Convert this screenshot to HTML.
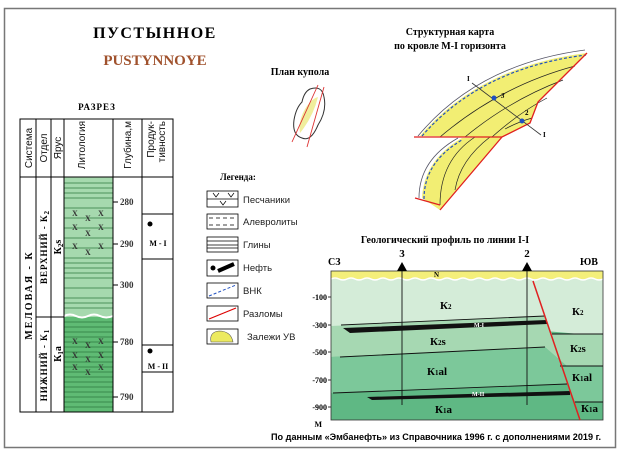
<!DOCTYPE html>
<html><head><meta charset="utf-8"><style>
html,body{margin:0;padding:0;background:#fff;width:624px;height:456px;overflow:hidden}
svg{display:block}
.s{font-family:"Liberation Serif",serif;font-weight:bold}
.a{font-family:"Liberation Sans",sans-serif}
</style></head><body>
<svg width="624" height="456" viewBox="0 0 624 456" xmlns="http://www.w3.org/2000/svg">
<rect x="4.5" y="8.5" width="611" height="439" fill="#fff" stroke="#777" stroke-width="1.5"/>
<text x="155" y="38" class="s" font-size="16" text-anchor="middle" letter-spacing="1.5">ПУСТЫННОЕ</text>
<text x="155" y="65" class="s" font-size="15" text-anchor="middle" fill="#a0522d">PUSTYNNOYE</text>
<text x="97" y="110" class="s" font-size="9" text-anchor="middle" letter-spacing="1">РАЗРЕЗ</text>
<!-- column -->
<rect x="64" y="177" width="49" height="140" fill="#a6d9ae"/>
<rect x="64" y="317" width="49" height="95" fill="#5fbb74"/>
<g stroke="#2f7a3f" stroke-width="0.8">
<path d="M64 183H113M64 188H113M64 193H113M64 198H113M64 208H113M64 218H113M64 228H113M64 238H113M64 248H113M64 258H113M64 263H113M64 268H113M64 273H113M64 278H113M64 288H113M64 298H113M64 303H113M64 308H113"/>
<path d="M64 322H113M64 327H113M64 332H113M64 337H113M64 342H113M64 347H113M64 352H113M64 357H113M64 362H113M64 367H113M64 372H113M64 377H113M64 382H113M64 387H113M64 392H113M64 397H113M64 402H113M64 407H113"/>
</g>
<path d="M64 316q6-3 12 0t12 0t12 0t13 0" stroke="#fff" stroke-width="2" fill="none"/>
<g class="s" font-size="8" fill="#333"><text x="72" y="216">X</text><text x="85" y="221">X</text><text x="98" y="216">X</text><text x="72" y="230">X</text><text x="85" y="236">X</text><text x="98" y="230">X</text><text x="72" y="249">X</text><text x="85" y="255">X</text><text x="98" y="249">X</text>
<text x="72" y="344">X</text><text x="85" y="348">X</text><text x="98" y="344">X</text><text x="72" y="358">X</text><text x="85" y="362">X</text><text x="98" y="358">X</text><text x="72" y="370">X</text><text x="85" y="375">X</text><text x="98" y="370">X</text></g>
<g fill="none" stroke="#000" stroke-width="1">
<rect x="20" y="119" width="153" height="293"/>
<path d="M20 177H173M36 119V412M51 119V412M64 119V412M113 119V412M142 119V412M36 317H64M142 214H173M142 259H173M142 345H173M142 372H173"/>
<path d="M113 202h5M113 244h5M113 285h5M113 342h5M113 397h5"/>
</g>
<g font-size="9" class="s" font-weight="normal" fill="#333"><text x="120" y="205">280</text><text x="120" y="247">290</text><text x="120" y="288">300</text><text x="120" y="345">780</text><text x="120" y="400">790</text></g>
<g class="a" font-size="10" fill="#111">
<text transform="translate(32,148) rotate(-90)" text-anchor="middle">Система</text>
<text transform="translate(47,148) rotate(-90)" text-anchor="middle">Отдел</text>
<text transform="translate(61,148) rotate(-90)" text-anchor="middle">Ярус</text>
<text transform="translate(85,121) rotate(-90)" text-anchor="end">Литология</text>
<text transform="translate(131,121) rotate(-90)" text-anchor="end">Глубина,м</text>
<text transform="translate(154,121) rotate(-90)" text-anchor="end">Продук-</text>
<text transform="translate(165,121) rotate(-90)" text-anchor="end">тивность</text>
</g>
<g class="s" font-size="10">
<text transform="translate(32,295) rotate(-90)" text-anchor="middle" letter-spacing="2">МЕЛОВАЯ - К</text>
<text transform="translate(47,247) rotate(-90)" text-anchor="middle" font-size="9" letter-spacing="1">ВЕРХНИЙ - К<tspan font-size="7" dy="2">2</tspan></text>
<text transform="translate(47,365) rotate(-90)" text-anchor="middle" font-size="9" letter-spacing="1">НИЖНИЙ - К<tspan font-size="7" dy="2">1</tspan></text>
<text transform="translate(61,247) rotate(-90)" text-anchor="middle">К<tspan font-size="7" dy="2">2</tspan><tspan dy="-2">s</tspan></text>
<text transform="translate(61,354) rotate(-90)" text-anchor="middle">К<tspan font-size="7" dy="2">1</tspan><tspan dy="-2">a</tspan></text>
<text x="158" y="246" font-size="8" text-anchor="middle">М - I</text>
<text x="158" y="369" font-size="8" text-anchor="middle">М - II</text>
</g>
<circle cx="150" cy="224" r="2.5"/><circle cx="150" cy="351" r="2.5"/>
<!-- legend -->
<text x="220" y="180" class="s" font-size="9">Легенда:</text>
<g fill="#fff" stroke="#000" stroke-width="0.8">
<rect x="207" y="191" width="31" height="16"/><rect x="207" y="214" width="31" height="15"/><rect x="207" y="237" width="31" height="15"/><rect x="207" y="260" width="31" height="16"/><rect x="207" y="283" width="31" height="15"/><rect x="207" y="306" width="31" height="15"/><rect x="207" y="329" width="31" height="15"/>
</g>
<path d="M207 199H238M213 193l3 4 3-4M228 193l3 4 3-4M220 201l3 4 3-4" stroke="#000" stroke-width="0.7" fill="none"/>
<path d="M209 218H236M209 225H236" stroke="#000" stroke-width="0.7" stroke-dasharray="4 3"/>
<path d="M207 241H238M207 245H238M207 248H238" stroke="#000" stroke-width="0.7"/>
<circle cx="213" cy="268" r="2.5"/><path d="M218 271L234 264" stroke="#000" stroke-width="4"/>
<path d="M209 296L236 285" stroke="#2050c0" stroke-width="1" stroke-dasharray="3 2"/>
<path d="M209 319L236 308" stroke="#d00" stroke-width="1.2"/>
<path d="M211 342q-2-10 8-11q12 0 14 11z" fill="#ecea60" stroke="#555" stroke-width="0.6"/>
<g class="a" font-size="9.5" fill="#222"><text x="243" y="203">Песчаники</text><text x="243" y="225">Алевролиты</text><text x="243" y="248">Глины</text><text x="243" y="271">Нефть</text><text x="243" y="294">ВНК</text><text x="243" y="317">Разломы</text><text x="247" y="340">Залежи УВ</text></g>
<!-- plan -->
<text x="300" y="75" class="s" font-size="10" text-anchor="middle">План купола</text>
<path d="M305 109q6-10 13-12q-5 20-18 36q-2-12 5-24z" fill="#f0ee9c"/>
<path d="M310 89q12-4 14 8q3 14-6 28q-7 17-16 13q-10-3-8-18q2-12 8-18q2-10 8-13z" fill="none" stroke="#333" stroke-width="1"/>
<path d="M318 85L292 142M324 87L307 147" stroke="#d33" stroke-width="0.9"/>
<!-- structural map -->
<text x="450" y="35" class="s" font-size="10" text-anchor="middle">Структурная карта</text>
<text x="450" y="49" class="s" font-size="10" text-anchor="middle">по кровле М-I  горизонта</text>
<path d="M420 136Q480 66 587 53L538 102L530 123L502 137Z" fill="#f2ee73"/>
<path d="M422 198Q424 160 462 138L502 137L440 210Z" fill="#f2ee73"/>
<path d="M418 136Q478 64 585 50M419 198Q419 160 458 138" fill="none" stroke="#556" stroke-width="0.8"/>
<path d="M422 136Q481 68 586 55M424 199Q424 162 462 140" fill="none" stroke="#2050c0" stroke-width="1.2" stroke-dasharray="3 2"/>
<g fill="none" stroke="#222" stroke-width="0.7">
<path d="M440 137Q500 86 575 66M465 137Q510 100 563 80M492 137Q520 112 547 98M505 129Q518 122 532 118"/>
<path d="M440 205Q440 160 475 137M455 190Q460 160 490 137"/>
</g>
<path d="M587 53L538 102L530 123L502 137L414 137M502 137L440 210M415 198L440 205" fill="none" stroke="#e02020" stroke-width="1.3"/>
<path d="M472 83L541 135" stroke="#333" stroke-width="0.8"/>
<circle cx="494" cy="98" r="2.5" fill="#2050c0"/><circle cx="522" cy="121" r="2.5" fill="#2050c0"/>
<g class="s" font-size="7"><text x="467" y="81">I</text><text x="543" y="137">I</text><text x="501" y="98" font-style="italic">3</text><text x="525" y="115">2</text></g>
<!-- profile -->
<text x="445" y="243" class="s" font-size="10" text-anchor="middle">Геологический профиль по линии I-I</text>
<rect x="331" y="271" width="272" height="149" fill="#5fb884"/>
<path d="M331 279H603V336L545 331L331 326Z" fill="#d4ecd8"/>
<path d="M331 326L545 316L552 334H603V366H560L545 347L331 357Z" fill="#a6d8b2"/>
<path d="M331 357L545 347L567 366H603V402H575L567 384L331 393Z" fill="#7cc89a"/>
<rect x="331" y="271" width="272" height="8" fill="#f4ef7a"/>
<path d="M331 279q4-2 8 0t8 0t8 0t8 0t8 0t8 0t8 0t8 0t8 0t8 0t8 0t8 0t8 0t8 0t8 0t8 0t8 0t8 0t8 0t8 0t8 0t8 0t8 0t8 0t8 0t8 0t8 0t8 0t8 0t8 0t8 0t8 0t8 0t8 0" stroke="#fff" stroke-width="1.5" fill="none"/>
<rect x="331" y="271" width="272" height="149" fill="none" stroke="#333" stroke-width="0.8"/>
<g stroke="#111" stroke-width="0.9" fill="none">
<path d="M341 325L545 316M340 357L545 347M333 393L567 384M552 334H603M560 366H603M575 402H603"/>
<path d="M402 271V405M527 271V405"/>
</g>
<path d="M343 328L547 320L547 324L350 333ZM367 397L570 391L570 395L372 400Z" fill="#111"/>
<path d="M533 281L580 420" stroke="#e02020" stroke-width="1.5"/>
<path d="M397 271L402 262L407 271ZM522 271L527 262L532 271Z"/>
<g class="s" font-size="11"><text x="402" y="257" text-anchor="middle">3</text><text x="527" y="257" text-anchor="middle">2</text><text x="328" y="265" font-size="10">СЗ</text><text x="580" y="265" font-size="10">ЮВ</text><text x="434" y="277" font-size="7">N</text>
<text x="440" y="309">К<tspan font-size="7">2</tspan></text><text x="572" y="315">К<tspan font-size="7">2</tspan></text>
<text x="430" y="345">К<tspan font-size="7">2</tspan>s</text><text x="570" y="352">К<tspan font-size="7">2</tspan>s</text>
<text x="427" y="375">К<tspan font-size="7">1</tspan>al</text><text x="572" y="381">К<tspan font-size="7">1</tspan>al</text>
<text x="435" y="413">К<tspan font-size="7">1</tspan>a</text><text x="581" y="412">К<tspan font-size="7">1</tspan>a</text>
<g font-size="8" text-anchor="end"><text x="327" y="300">-100</text><text x="327" y="328">-300</text><text x="327" y="355">-500</text><text x="327" y="383">-700</text><text x="327" y="410">-900</text><text x="322" y="427">М</text></g></g>
<path d="M328 297h3M328 325h3M328 352h3M328 380h3M328 407h3" stroke="#333"/>
<g class="s" font-size="6" fill="#fff"><text x="474" y="327">М-I</text><text x="472" y="396">М-II</text></g>
<text x="271" y="440" class="a" font-size="9" font-weight="bold" textLength="330" lengthAdjust="spacingAndGlyphs">По данным «Эмбанефть» из Справочника 1996 г. с дополнениями 2019 г.</text>
</svg>
</body></html>
